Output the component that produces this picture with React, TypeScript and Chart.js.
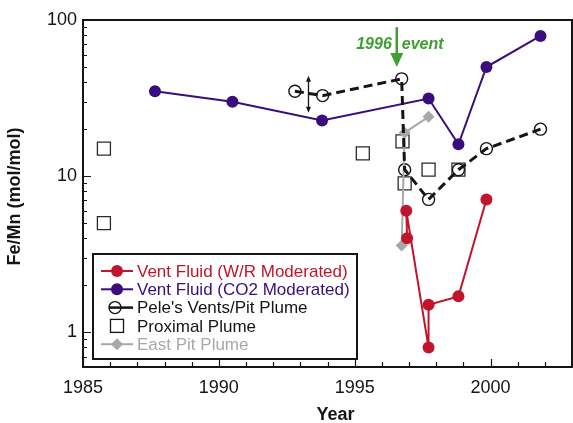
import { useEffect, useRef } from "react";
import { Chart, registerables } from "chart.js";

Chart.register(...registerables);

const WIDTH = 573;
const HEIGHT = 423;

// Vent fluid, water/rock moderated
const wrYears = [1996.93, 1996.9, 1997.72, 1997.72, 1998.82, 1999.85];
const wrFeMn = [4.0, 6.0, 0.8, 1.5, 1.7, 7.1];

// Vent fluid, CO2 moderated
const co2Years = [1987.65, 1990.5, 1993.8, 1997.72, 1998.82, 1999.85, 2001.84];
const co2FeMn = [35, 30, 22.7, 31.4, 16, 50, 79];

// Pele's Vents / Pit plume
const peleYears = [1992.8, 1993.82, 1996.73, 1996.84, 1997.72, 1998.82, 1999.85, 2001.84];
const peleFeMn = [35, 32.8, 42, 11, 7.1, 11, 15, 20];

// Proximal plume
const proximalYears = [1985.77, 1985.77, 1995.3, 1996.76, 1996.84, 1997.72, 1998.82];
const proximalFeMn = [15, 5, 14, 16.7, 9, 11, 11];

// East Pit plume
const eastPitYears = [1996.73, 1996.84, 1997.72];
const eastPitFeMn = [3.6, 19, 24];

// uncertainty range for the early Pele's samples
const peleRangeYear = 1993.3;
const peleRange = [25.5, 44];

// eruption marker
const eventYear = 1996.55;
const eventArrow = [90, 50];
const eventLabel = ["1996", "event"];

const xTicks = [1985, 1990, 1995, 2000];
const yTicks = [1, 10, 100];

const labels = {
  wr: "Vent Fluid (W/R Moderated)",
  co2: "Vent Fluid (CO2 Moderated)",
  pele: "Pele's Vents/Pit Plume",
  proximal: "Proximal Plume",
  eastPit: "East Pit Plume",
};

const RED = "#c1152d";
const PURPLE = "#3a0d7c";
const GRAY = "#a8a8a8";
const GREEN = "#3f9f33";
const INK = "#151515";
const FONT = "'Liberation Sans', Arial, Helvetica, sans-serif";

// target plot frame inside the 573x423 canvas
const FRAME = { left: 83, right: 572, top: 20, bottom: 367 };

const pts = (xs: number[], ys: number[]) => xs.map((x, i) => ({ x, y: ys[i] }));

function arrowHead(ctx: CanvasRenderingContext2D, x: number, y: number, dir: number, w: number, h: number) {
  ctx.beginPath();
  ctx.moveTo(x, y);
  ctx.lineTo(x - w / 2, y - dir * h);
  ctx.lineTo(x + w / 2, y - dir * h);
  ctx.closePath();
  ctx.fill();
}

const decorPlugin = {
  id: "decor",
  afterDatasetsDraw(chart: any) {
    const { ctx } = chart;
    const xs = chart.scales.x;
    const ys = chart.scales.y;

    // double-headed uncertainty arrow
    const ax = xs.getPixelForValue(peleRangeYear);
    const ay1 = ys.getPixelForValue(peleRange[1]);
    const ay2 = ys.getPixelForValue(peleRange[0]);
    ctx.save();
    ctx.strokeStyle = INK;
    ctx.fillStyle = INK;
    ctx.lineWidth = 1.3;
    ctx.beginPath();
    ctx.moveTo(ax, ay1 + 4);
    ctx.lineTo(ax, ay2 - 4);
    ctx.stroke();
    arrowHead(ctx, ax, ay1, -1, 5, 6);
    arrowHead(ctx, ax, ay2, 1, 5, 6);
    ctx.restore();

    // 1996 event arrow and label
    const ex = xs.getPixelForValue(eventYear);
    const et = ys.getPixelForValue(eventArrow[0]);
    const eb = ys.getPixelForValue(eventArrow[1]);
    ctx.save();
    ctx.strokeStyle = GREEN;
    ctx.fillStyle = GREEN;
    ctx.lineWidth = 2.5;
    ctx.beginPath();
    ctx.moveTo(ex, et);
    ctx.lineTo(ex, eb - 12);
    ctx.stroke();
    arrowHead(ctx, ex, eb, 1, 13, 14);
    ctx.font = `italic bold 16px ${FONT}`;
    ctx.textBaseline = "middle";
    const ly = et + 17;
    ctx.textAlign = "right";
    ctx.fillText(eventLabel[0], ex - 5, ly);
    ctx.textAlign = "left";
    ctx.fillText(eventLabel[1], ex + 5, ly);
    ctx.restore();
  },
  afterDraw(chart: any) {
    const { ctx, chartArea: ca } = chart;
    const xs = chart.scales.x;
    const ys = chart.scales.y;
    ctx.save();

    // inward tick marks
    ctx.strokeStyle = INK;
    ctx.lineWidth = 1.2;
    ctx.beginPath();
    for (let yr = 1985; yr <= 2003; yr++) {
      const px = Math.round(xs.getPixelForValue(yr)) + 0.5;
      const len = yr % 5 === 0 ? 8 : 5;
      ctx.moveTo(px, ca.bottom);
      ctx.lineTo(px, ca.bottom - len);
    }
    for (let dec = 0.1; dec <= 100; dec *= 10) {
      for (let m = 1; m <= 9; m++) {
        const v = m * dec;
        if (v < ys.min || v > ys.max * 1.0001) continue;
        const py = Math.round(ys.getPixelForValue(v)) + 0.5;
        const len = m === 1 ? 8 : 4;
        ctx.moveTo(ca.left, py);
        ctx.lineTo(ca.left + len, py);
      }
    }
    ctx.stroke();

    // plot frame
    ctx.lineWidth = 2;
    ctx.strokeRect(ca.left, ca.top, ca.right - ca.left, ca.bottom - ca.top);

    // axis titles
    ctx.fillStyle = INK;
    ctx.font = `bold 18px ${FONT}`;
    ctx.textAlign = "center";
    ctx.textBaseline = "middle";
    ctx.fillText("Year", (ca.left + ca.right) / 2 + 8, 415);
    ctx.save();
    ctx.translate(15, (ca.top + ca.bottom) / 2 + 3);
    ctx.rotate(-Math.PI / 2);
    ctx.fillText("Fe/Mn (mol/mol)", 0, 0);
    ctx.restore();

    // legend
    const bx = ca.left + 10;
    const by = ca.top + 234;
    const bw = 264;
    const bh = 105;
    ctx.fillStyle = "#ffffff";
    ctx.fillRect(bx, by, bw, bh);
    ctx.strokeStyle = INK;
    ctx.lineWidth = 2;
    ctx.strokeRect(bx, by, bw, bh);

    const rows = [
      { label: labels.wr, color: RED, kind: "dot" },
      { label: labels.co2, color: PURPLE, kind: "dot" },
      { label: labels.pele, color: INK, kind: "ring" },
      { label: labels.proximal, color: INK, kind: "square" },
      { label: labels.eastPit, color: GRAY, kind: "diamond" },
    ];
    const sx = bx + 24;
    ctx.font = `17px ${FONT}`;
    ctx.textAlign = "left";
    ctx.textBaseline = "middle";
    rows.forEach((r, i) => {
      const ry = by + 17 + i * 18.3;
      ctx.strokeStyle = r.color;
      ctx.fillStyle = r.color;
      if (r.kind === "dot" || r.kind === "diamond") {
        ctx.lineWidth = 2;
        ctx.beginPath();
        ctx.moveTo(sx - 16, ry);
        ctx.lineTo(sx + 16, ry);
        ctx.stroke();
        ctx.beginPath();
        if (r.kind === "dot") {
          ctx.arc(sx, ry, 6, 0, Math.PI * 2);
        } else {
          ctx.moveTo(sx, ry - 6);
          ctx.lineTo(sx + 6, ry);
          ctx.lineTo(sx, ry + 6);
          ctx.lineTo(sx - 6, ry);
          ctx.closePath();
        }
        ctx.fill();
      } else if (r.kind === "ring") {
        ctx.lineWidth = 1.4;
        ctx.beginPath();
        ctx.arc(sx - 2, ry, 6, 0, Math.PI * 2);
        ctx.stroke();
        ctx.lineWidth = 2.5;
        ctx.beginPath();
        ctx.moveTo(sx - 8, ry);
        ctx.lineTo(sx + 16, ry);
        ctx.stroke();
      } else {
        ctx.lineWidth = 1.3;
        ctx.strokeRect(sx - 6.5, ry - 6.5, 13, 13);
      }
      ctx.fillStyle = r.color;
      ctx.fillText(r.label, bx + 44, ry + 1);
    });

    ctx.restore();
  },
};

export default function App() {
  const ref = useRef<HTMLCanvasElement | null>(null);

  useEffect(() => {
    const canvas = ref.current;
    if (!canvas) return;
    const chart = new Chart(canvas, {
      type: "scatter",
      data: {
        datasets: [
          {
            label: labels.pele,
            data: pts(peleYears, peleFeMn),
            showLine: true,
            borderColor: INK,
            borderWidth: 3,
            borderDash: [9, 5],
            pointRadius: 0,
            fill: false,
          },
          {
            label: labels.wr,
            data: pts(wrYears, wrFeMn),
            showLine: true,
            borderColor: RED,
            backgroundColor: RED,
            borderWidth: 2,
            pointRadius: 6,
            pointBorderWidth: 0,
            pointBackgroundColor: RED,
          },
          {
            label: labels.co2,
            data: pts(co2Years, co2FeMn),
            showLine: true,
            borderColor: PURPLE,
            backgroundColor: PURPLE,
            borderWidth: 2,
            pointRadius: 6,
            pointBorderWidth: 0,
            pointBackgroundColor: PURPLE,
          },
          {
            label: labels.eastPit,
            data: pts(eastPitYears, eastPitFeMn),
            showLine: true,
            borderColor: GRAY,
            backgroundColor: GRAY,
            borderWidth: 2,
            pointStyle: "rectRot",
            pointRadius: 6,
            pointBorderWidth: 0,
            pointBackgroundColor: GRAY,
          },
          {
            label: labels.pele + " samples",
            data: pts(peleYears, peleFeMn),
            showLine: false,
            pointRadius: 6,
            pointBorderWidth: 1.4,
            pointBorderColor: INK,
            pointBackgroundColor: "#ffffff",
          },
          {
            label: labels.proximal,
            data: pts(proximalYears, proximalFeMn),
            showLine: false,
            pointStyle: "rect",
            pointRadius: 9.2,
            pointBorderWidth: 1.3,
            pointBorderColor: "#2a2a2a",
            pointBackgroundColor: "rgba(0,0,0,0)",
          },
        ],
      },
      options: {
        responsive: false,
        animation: false,
        devicePixelRatio: 1,
        layout: { padding: { left: 0, right: 1, top: FRAME.top, bottom: 0 } },
        plugins: {
          legend: { display: false },
          tooltip: { enabled: false },
        },
        scales: {
          x: {
            type: "linear",
            min: 1985,
            max: 2003,
            grid: { display: false, drawTicks: false },
            border: { display: false },
            ticks: {
              color: INK,
              font: { family: FONT, size: 18 },
              padding: 10,
              maxRotation: 0,
              autoSkip: false,
              callback: (v: any) => String(v),
            },
            afterBuildTicks: (s: any) => {
              s.ticks = xTicks.map((v) => ({ value: v }));
            },
            afterFit: (s: any) => {
              s.height = HEIGHT - FRAME.bottom;
            },
          },
          y: {
            type: "logarithmic",
            min: 0.62,
            max: 100,
            grid: { display: false, drawTicks: false },
            border: { display: false },
            ticks: {
              color: INK,
              font: { family: FONT, size: 18 },
              padding: 6,
              autoSkip: false,
              callback: (v: any) => String(v),
            },
            afterBuildTicks: (s: any) => {
              s.ticks = yTicks.map((v) => ({ value: v }));
            },
            afterFit: (s: any) => {
              s.width = FRAME.left;
            },
          },
        },
      },
      plugins: [
        {
          id: "pinFrame",
          // keep the plot box at a fixed place regardless of label padding
          afterLayout(chart: any) {
            const ca = chart.chartArea;
            const xs = chart.scales.x;
            const ys = chart.scales.y;
            ca.left = FRAME.left;
            ca.right = FRAME.right;
            ca.top = FRAME.top;
            ca.bottom = FRAME.bottom;
            ca.width = FRAME.right - FRAME.left;
            ca.height = FRAME.bottom - FRAME.top;
            xs.left = FRAME.left;
            xs.right = FRAME.right;
            xs.width = FRAME.right - FRAME.left;
            xs.top = FRAME.bottom;
            xs.bottom = HEIGHT;
            ys.top = FRAME.top;
            ys.bottom = FRAME.bottom;
            ys.height = FRAME.bottom - FRAME.top;
            ys.left = 0;
            ys.right = FRAME.left;
            xs.configure();
            ys.configure();
          },
        },
        decorPlugin,
      ],
    });
    return () => chart.destroy();
  }, []);

  return (
    <div style={{ position: "fixed", left: 0, top: 0, width: WIDTH, height: HEIGHT, background: "#fff" }}>
      <canvas ref={ref} width={WIDTH} height={HEIGHT} style={{ display: "block" }} />
    </div>
  );
}
